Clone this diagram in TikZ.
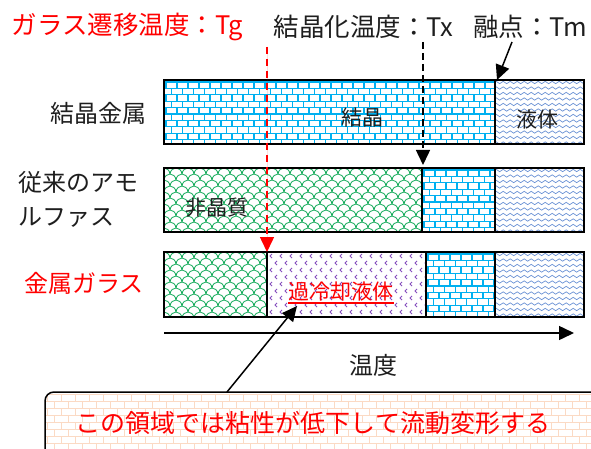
\documentclass[tikz,border=0pt]{standalone}
\usepackage{fontspec}
\setmainfont{Noto Sans CJK JP}
\usetikzlibrary{arrows.meta,decorations.pathmorphing}
\definecolor{brickcyan}{RGB}{0,176,240}
\definecolor{scalegreen}{RGB}{20,170,90}
\definecolor{waveblue}{RGB}{105,145,212}
\definecolor{dotpurple}{RGB}{135,80,190}
\definecolor{peach}{RGB}{251,218,196}
\definecolor{txtred}{RGB}{255,0,0}
\definecolor{txtgray}{RGB}{30,30,30}

% brick pattern: x1 y1 x2 y2 rowheight brickwidth style
\newcommand\brickpat[7]{%
  \begin{scope}
    \clip (#1,#2) rectangle (#3,#4);
    \pgfmathtruncatemacro\bpnr{(#4-#2)/#5+1}
    \pgfmathtruncatemacro\bpnc{(#3-#1)/#6+1}
    \foreach \bpi in {0,...,\bpnr}{
      \pgfmathsetmacro\bpy{#2+2+\bpi*#5}
      \draw[#7] (#1,\bpy) -- (#3,\bpy);
      \foreach \bpj in {0,...,\bpnc}{
        \pgfmathsetmacro\bpx{#1+2+\bpj*#6-mod(\bpi,2)*#6/2}
        \draw[#7] (\bpx,\bpy) -- (\bpx,\bpy+#5);
      }
    }
  \end{scope}}
% fish scale pattern
\newcommand\scalepat[4]{%
  \begin{scope}
    \clip (#1,#2) rectangle (#3,#4);
    \pgfmathtruncatemacro\spnr{(#4-#2)/6+2}
    \pgfmathtruncatemacro\spnc{(#3-#1)/12+1}
    \foreach \spi in {0,...,\spnr}{
      \pgfmathsetmacro\spy{#2+\spi*6}
      \foreach \spj in {0,...,\spnc}{
        \pgfmathsetmacro\spx{#1+\spj*12-mod(\spi,2)*6}
        \draw[scaleline] (\spx,\spy) .. controls (\spx+1,\spy-8) and (\spx+11,\spy-8) .. (\spx+12,\spy);
      }
    }
  \end{scope}}
% wave pattern
\newcommand\wavepat[4]{%
  \begin{scope}
    \clip (#1,#2) rectangle (#3,#4);
    \pgfmathtruncatemacro\wpnr{(#4-#2)/5.5+1}
    \foreach \wpi in {0,...,\wpnr}{
      \pgfmathsetmacro\wpy{#2+2.5+\wpi*5.5}
      \draw[waveline] (#1-8,\wpy) -- (#3+8,\wpy);
    }
  \end{scope}}
% chevron pattern
\newcommand\chevpat[4]{%
  \begin{scope}
    \clip (#1,#2) rectangle (#3,#4);
    \pgfmathtruncatemacro\cpnr{(#4-#2)/7+1}
    \pgfmathtruncatemacro\cpnc{(#3-#1)/10+1}
    \foreach \cpi in {0,...,\cpnr}{
      \pgfmathsetmacro\cpy{#2+4+\cpi*7}
      \foreach \cpj in {0,...,\cpnc}{
        \pgfmathsetmacro\cpx{#1+3+\cpj*10+mod(\cpi,2)*5}
        \draw[chevline] (\cpx+2,\cpy-2) -- (\cpx,\cpy) -- (\cpx+2,\cpy+2);
      }
    }
  \end{scope}}

\begin{document}
\begin{tikzpicture}[x=1pt,y=-1pt,
  brickline/.style={draw=brickcyan,line width=1.1pt},
  peachline/.style={draw=peach,line width=0.9pt},
  scaleline/.style={draw=scalegreen,line width=0.8pt},
  waveline/.style={draw=waveblue,line width=0.7pt,decorate,decoration={snake,amplitude=1.2pt,segment length=7pt}},
  chevline/.style={draw=dotpurple,line width=1pt},
  segborder/.style={draw=black,line width=2pt},
  hdr/.style={font=\fontsize{25.5}{28}\selectfont,inner sep=0pt},
  rowlbl/.style={font=\fontsize{24}{28}\selectfont,inner sep=0pt,text=txtgray},
  barlbl/.style={font=\fontsize{21}{24}\selectfont,inner sep=0pt,text=txtgray},
  ptr/.style={-{Triangle[width=14pt,length=15pt]},line width=1.5pt},
]
\useasboundingbox (0,0) rectangle (591,449);

% ---------- row 1: crystalline metal
\fill[white] (164,80) rectangle (584,144);
\brickpat{164}{80}{495}{144}{6.4}{11}{brickline}
\wavepat{495}{80}{584}{144}
\draw[segborder] (164,80) rectangle (495,144);
\draw[segborder] (495,80) rectangle (584,144);

% ---------- row 2: conventional amorphous
\scalepat{164}{168}{422}{232}
\brickpat{422}{168}{495}{232}{6.4}{11}{brickline}
\wavepat{495}{168}{584}{232}
\draw[segborder] (164,168) rectangle (422,232);
\draw[segborder] (422,168) rectangle (495,232);
\draw[segborder] (495,168) rectangle (584,232);

% ---------- row 3: metallic glass
\scalepat{164}{252}{267}{317}
\chevpat{267}{252}{426}{317}
\brickpat{426}{252}{495}{317}{6.4}{11}{brickline}
\wavepat{495}{252}{584}{317}
\draw[segborder] (164,252) rectangle (267,317);
\draw[segborder] (267,252) rectangle (426,317);
\draw[segborder] (426,252) rectangle (495,317);
\draw[segborder] (495,252) rectangle (584,317);

% ---------- headers
\node[hdr,text=txtred] (tg) at (127.5,27) {ガラス遷移温度：Tg};
\node[hdr,text=txtgray] (tx) at (363.5,27) {結晶化温度：Tx};
\node[hdr,text=txtgray] (tm) at (530.5,27) {融点：Tm};

% ---------- row labels
\node[rowlbl] (lcm) at (98,113) {結晶金属};
\node[rowlbl,anchor=west] (lam1) at (18,182) {従来のアモ};
\node[rowlbl,anchor=west] (lam2) at (18,217) {ルファス};
\node[rowlbl,text=txtred] (lmg) at (84,283) {金属ガラス};

% ---------- bar labels
\node[barlbl] (bcr) at (362,118) {結晶};
\node[barlbl] (bliq) at (537,120) {液体};
\node[barlbl] (bam) at (217,208) {非晶質};
\node[barlbl,text=txtred] (bsc) at (341,292) {過冷却液体};
\draw[txtred,line width=1.5pt] (bsc.south west |- 0,303) -- (bsc.south east |- 0,303);

% ---------- axis
\coordinate (axs) at (164,333);
\coordinate (axe) at (574,333);
\draw[ptr] (axs) -- (axe);
\node[rowlbl] (temp) at (373,365) {温度};

% ---------- temperature markers
\coordinate (tgs) at (267,47);
\coordinate (tgt) at (267,252);
\draw[ptr,draw=txtred,fill=txtred,dash pattern=on 7pt off 5pt] (tgs) -- (tgt);
\coordinate (txs) at (423,42);
\coordinate (txt) at (423,165);
\draw[ptr,dash pattern=on 7pt off 4pt] (txs) -- (txt);
\coordinate (tms) at (512,42);
\coordinate (tmt) at (497,80);
\draw[ptr] (tms) -- (tmt);

% ---------- callout
\begin{scope}
  \clip (0,0) rectangle (591,449);
  \fill[white,rounded corners=9pt] (45,392) rectangle (640,490);
  \begin{scope}
    \clip[rounded corners=9pt] (45,392) rectangle (640,490);
    \brickpat{45}{392}{640}{490}{7}{14}{peachline}
  \end{scope}
  \draw[black,line width=1.5pt,rounded corners=9pt] (45,392) rectangle (640,490);
\end{scope}
\node[font=\fontsize{25}{28}\selectfont,inner sep=0pt,text=txtred] (note) at (313,423) {この領域では粘性が低下して流動変形する};
\coordinate (cos) at (227,392);
\coordinate (cot) at (297,306);
\draw[ptr] (cos) -- (cot);
\end{tikzpicture}
\end{document}
